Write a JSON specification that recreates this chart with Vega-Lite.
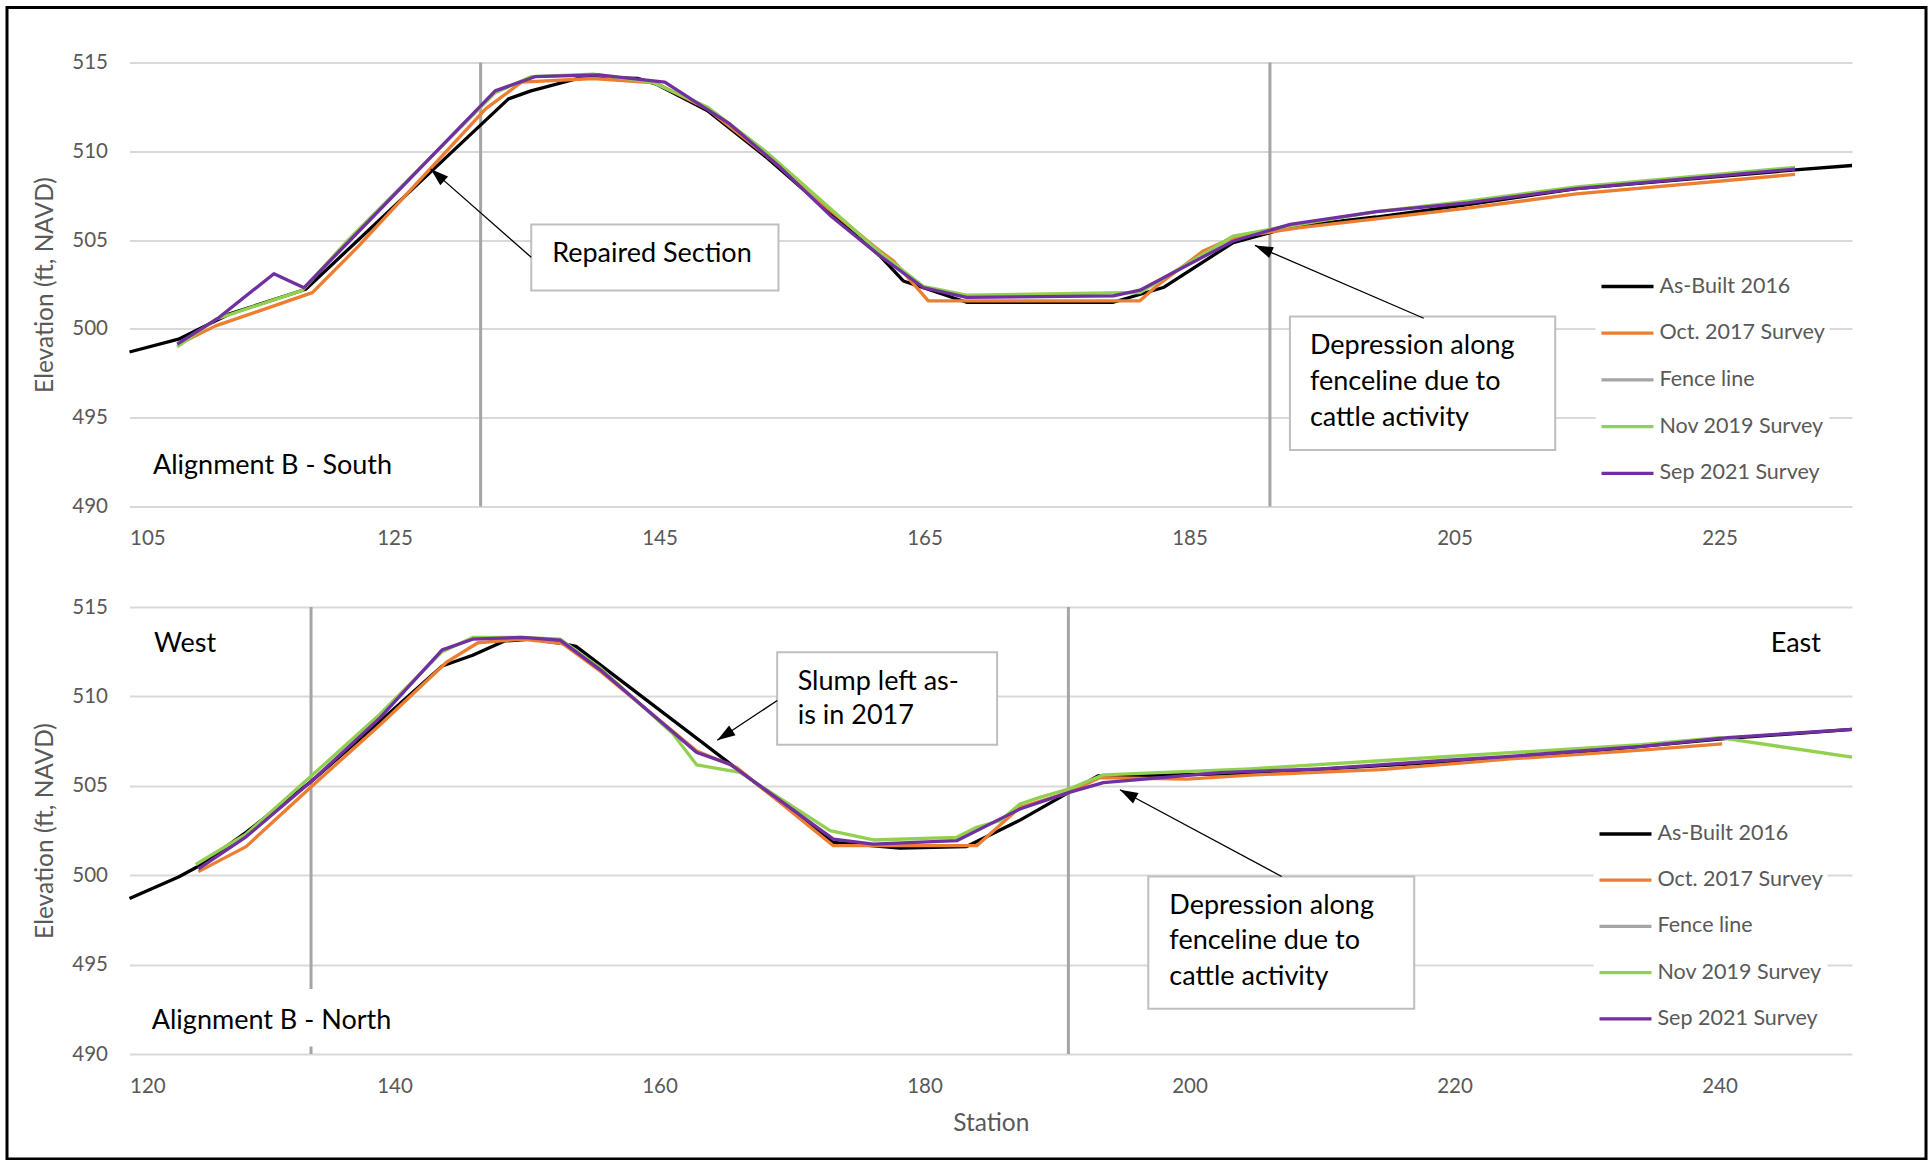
{
  "$schema": "https://vega.github.io/schema/vega-lite/v6.json",
  "background": "white",
  "padding": {"left": 5.5, "top": 5.5, "right": 0, "bottom": 0},
  "bounds": "flush",
  "spacing": 100.5,
  "config": {
    "font": "Lato",
    "view": {"stroke": null},
    "axis": {
      "gridColor": "#D9D9D9", "gridWidth": 2, "domain": false, "ticks": false,
      "labelColor": "#595959", "labelFontSize": 20.5, "labelFont": "Lato",
      "titleColor": "#595959", "titleFontSize": 24.5, "titleFontWeight": "normal", "titleFont": "Lato"
    },
    "legend": {
      "title": null, "symbolType": "stroke", "symbolStrokeWidth": 3.3, "symbolSize": 2704,
      "labelFontSize": 21.5, "labelColor": "#595959", "labelFont": "Lato", "labelOffset": 4,
      "padding": 4, "fillColor": "white", "labelLimit": 400
    }
  },
  "resolve": {"scale": {"color": "independent"}, "legend": {"color": "independent"}},
  "datasets": {
    "top": [
      {"station": 105.0, "elev": 498.7, "series": "As-Built 2016"},
      {"station": 108.7, "elev": 499.42, "series": "As-Built 2016"},
      {"station": 112.5, "elev": 500.83, "series": "As-Built 2016"},
      {"station": 118.3, "elev": 502.23, "series": "As-Built 2016"},
      {"station": 133.6, "elev": 512.95, "series": "As-Built 2016"},
      {"station": 135.3, "elev": 513.4, "series": "As-Built 2016"},
      {"station": 138.7, "elev": 514.07, "series": "As-Built 2016"},
      {"station": 140.0, "elev": 514.16, "series": "As-Built 2016"},
      {"station": 143.4, "elev": 514.1, "series": "As-Built 2016"},
      {"station": 144.7, "elev": 513.8, "series": "As-Built 2016"},
      {"station": 148.6, "elev": 512.3, "series": "As-Built 2016"},
      {"station": 153.0, "elev": 509.7, "series": "As-Built 2016"},
      {"station": 157.7, "elev": 506.65, "series": "As-Built 2016"},
      {"station": 161.64, "elev": 504.11, "series": "As-Built 2016"},
      {"station": 163.4, "elev": 502.7, "series": "As-Built 2016"},
      {"station": 168.18, "elev": 501.5, "series": "As-Built 2016"},
      {"station": 179.25, "elev": 501.5, "series": "As-Built 2016"},
      {"station": 183.02, "elev": 502.33, "series": "As-Built 2016"},
      {"station": 188.3, "elev": 504.86, "series": "As-Built 2016"},
      {"station": 191.07, "elev": 505.42, "series": "As-Built 2016"},
      {"station": 192.6, "elev": 505.75, "series": "As-Built 2016"},
      {"station": 199.1, "elev": 506.3, "series": "As-Built 2016"},
      {"station": 206.0, "elev": 507.0, "series": "As-Built 2016"},
      {"station": 214.2, "elev": 507.9, "series": "As-Built 2016"},
      {"station": 230.7, "elev": 508.95, "series": "As-Built 2016"},
      {"station": 235.0, "elev": 509.2, "series": "As-Built 2016"},

      {"station": 108.7, "elev": 499.14, "series": "Oct. 2017 Survey"},
      {"station": 111.5, "elev": 500.17, "series": "Oct. 2017 Survey"},
      {"station": 118.8, "elev": 502.04, "series": "Oct. 2017 Survey"},
      {"station": 122.3, "elev": 504.67, "series": "Oct. 2017 Survey"},
      {"station": 131.9, "elev": 512.4, "series": "Oct. 2017 Survey"},
      {"station": 134.6, "elev": 513.9, "series": "Oct. 2017 Survey"},
      {"station": 140.0, "elev": 514.1, "series": "Oct. 2017 Survey"},
      {"station": 144.7, "elev": 513.85, "series": "Oct. 2017 Survey"},
      {"station": 148.6, "elev": 512.4, "series": "Oct. 2017 Survey"},
      {"station": 153.0, "elev": 509.8, "series": "Oct. 2017 Survey"},
      {"station": 157.7, "elev": 506.8, "series": "Oct. 2017 Survey"},
      {"station": 161.64, "elev": 504.39, "series": "Oct. 2017 Survey"},
      {"station": 162.65, "elev": 503.83, "series": "Oct. 2017 Survey"},
      {"station": 165.29, "elev": 501.58, "series": "Oct. 2017 Survey"},
      {"station": 181.26, "elev": 501.58, "series": "Oct. 2017 Survey"},
      {"station": 182.5, "elev": 502.4, "series": "Oct. 2017 Survey"},
      {"station": 186.04, "elev": 504.39, "series": "Oct. 2017 Survey"},
      {"station": 188.3, "elev": 505.14, "series": "Oct. 2017 Survey"},
      {"station": 193.34, "elev": 505.7, "series": "Oct. 2017 Survey"},
      {"station": 199.1, "elev": 506.2, "series": "Oct. 2017 Survey"},
      {"station": 206.0, "elev": 506.8, "series": "Oct. 2017 Survey"},
      {"station": 214.2, "elev": 507.6, "series": "Oct. 2017 Survey"},
      {"station": 230.7, "elev": 508.7, "series": "Oct. 2017 Survey"},

      {"station": 108.6, "elev": 498.99, "series": "Nov 2019 Survey"},
      {"station": 111.5, "elev": 500.54, "series": "Nov 2019 Survey"},
      {"station": 118.04, "elev": 502.17, "series": "Nov 2019 Survey"},
      {"station": 121.3, "elev": 504.85, "series": "Nov 2019 Survey"},
      {"station": 132.6, "elev": 513.3, "series": "Nov 2019 Survey"},
      {"station": 135.3, "elev": 514.2, "series": "Nov 2019 Survey"},
      {"station": 140.0, "elev": 514.35, "series": "Nov 2019 Survey"},
      {"station": 144.4, "elev": 513.9, "series": "Nov 2019 Survey"},
      {"station": 148.6, "elev": 512.5, "series": "Nov 2019 Survey"},
      {"station": 153.0, "elev": 510.0, "series": "Nov 2019 Survey"},
      {"station": 157.7, "elev": 506.9, "series": "Nov 2019 Survey"},
      {"station": 161.64, "elev": 504.3, "series": "Nov 2019 Survey"},
      {"station": 164.9, "elev": 502.4, "series": "Nov 2019 Survey"},
      {"station": 168.18, "elev": 501.9, "series": "Nov 2019 Survey"},
      {"station": 181.26, "elev": 502.05, "series": "Nov 2019 Survey"},
      {"station": 188.3, "elev": 505.23, "series": "Nov 2019 Survey"},
      {"station": 191.07, "elev": 505.61, "series": "Nov 2019 Survey"},
      {"station": 199.1, "elev": 506.6, "series": "Nov 2019 Survey"},
      {"station": 206.0, "elev": 507.2, "series": "Nov 2019 Survey"},
      {"station": 214.2, "elev": 508.0, "series": "Nov 2019 Survey"},
      {"station": 230.7, "elev": 509.1, "series": "Nov 2019 Survey"},

      {"station": 108.6, "elev": 499.14, "series": "Sep 2021 Survey"},
      {"station": 111.75, "elev": 500.64, "series": "Sep 2021 Survey"},
      {"station": 115.9, "elev": 503.11, "series": "Sep 2021 Survey"},
      {"station": 118.17, "elev": 502.32, "series": "Sep 2021 Survey"},
      {"station": 121.6, "elev": 504.95, "series": "Sep 2021 Survey"},
      {"station": 132.6, "elev": 513.4, "series": "Sep 2021 Survey"},
      {"station": 135.6, "elev": 514.2, "series": "Sep 2021 Survey"},
      {"station": 140.4, "elev": 514.3, "series": "Sep 2021 Survey"},
      {"station": 145.4, "elev": 513.9, "series": "Sep 2021 Survey"},
      {"station": 150.3, "elev": 511.54, "series": "Sep 2021 Survey"},
      {"station": 154.0, "elev": 509.17, "series": "Sep 2021 Survey"},
      {"station": 158.0, "elev": 506.31, "series": "Sep 2021 Survey"},
      {"station": 161.64, "elev": 504.11, "series": "Sep 2021 Survey"},
      {"station": 164.9, "elev": 502.33, "series": "Sep 2021 Survey"},
      {"station": 168.18, "elev": 501.77, "series": "Sep 2021 Survey"},
      {"station": 179.25, "elev": 501.86, "series": "Sep 2021 Survey"},
      {"station": 181.26, "elev": 502.18, "series": "Sep 2021 Survey"},
      {"station": 188.3, "elev": 504.95, "series": "Sep 2021 Survey"},
      {"station": 192.6, "elev": 505.89, "series": "Sep 2021 Survey"},
      {"station": 199.1, "elev": 506.6, "series": "Sep 2021 Survey"},
      {"station": 206.0, "elev": 507.1, "series": "Sep 2021 Survey"},
      {"station": 214.2, "elev": 507.9, "series": "Sep 2021 Survey"},
      {"station": 230.7, "elev": 509.0, "series": "Sep 2021 Survey"}
    ],
    "bottom": [
      {"station": 120.0, "elev": 498.7, "series": "As-Built 2016"},
      {"station": 123.7, "elev": 499.9, "series": "As-Built 2016"},
      {"station": 125.2, "elev": 500.5, "series": "As-Built 2016"},
      {"station": 128.8, "elev": 502.4, "series": "As-Built 2016"},
      {"station": 133.8, "elev": 505.3, "series": "As-Built 2016"},
      {"station": 138.9, "elev": 508.6, "series": "As-Built 2016"},
      {"station": 143.6, "elev": 511.7, "series": "As-Built 2016"},
      {"station": 145.9, "elev": 512.3, "series": "As-Built 2016"},
      {"station": 148.3, "elev": 513.1, "series": "As-Built 2016"},
      {"station": 150.3, "elev": 513.2, "series": "As-Built 2016"},
      {"station": 152.7, "elev": 512.95, "series": "As-Built 2016"},
      {"station": 153.7, "elev": 512.8, "series": "As-Built 2016"},
      {"station": 173.12, "elev": 501.84, "series": "As-Built 2016"},
      {"station": 178.15, "elev": 501.52, "series": "As-Built 2016"},
      {"station": 183.18, "elev": 501.6, "series": "As-Built 2016"},
      {"station": 187.21, "elev": 503.08, "series": "As-Built 2016"},
      {"station": 190.86, "elev": 504.62, "series": "As-Built 2016"},
      {"station": 193.12, "elev": 505.56, "series": "As-Built 2016"},
      {"station": 194.76, "elev": 505.56, "series": "As-Built 2016"},
      {"station": 204.6, "elev": 505.7, "series": "As-Built 2016"},
      {"station": 224.2, "elev": 506.55, "series": "As-Built 2016"},
      {"station": 234.1, "elev": 507.2, "series": "As-Built 2016"},
      {"station": 240.6, "elev": 507.65, "series": "As-Built 2016"},
      {"station": 250.0, "elev": 508.15, "series": "As-Built 2016"},

      {"station": 125.2, "elev": 500.2, "series": "Oct. 2017 Survey"},
      {"station": 128.8, "elev": 501.6, "series": "Oct. 2017 Survey"},
      {"station": 133.8, "elev": 505.0, "series": "Oct. 2017 Survey"},
      {"station": 138.9, "elev": 508.4, "series": "Oct. 2017 Survey"},
      {"station": 143.9, "elev": 511.9, "series": "Oct. 2017 Survey"},
      {"station": 146.3, "elev": 513.0, "series": "Oct. 2017 Survey"},
      {"station": 149.6, "elev": 513.2, "series": "Oct. 2017 Survey"},
      {"station": 152.7, "elev": 512.95, "series": "Oct. 2017 Survey"},
      {"station": 155.51, "elev": 511.42, "series": "Oct. 2017 Survey"},
      {"station": 162.81, "elev": 506.95, "series": "Oct. 2017 Survey"},
      {"station": 165.83, "elev": 506.02, "series": "Oct. 2017 Survey"},
      {"station": 173.12, "elev": 501.65, "series": "Oct. 2017 Survey"},
      {"station": 183.94, "elev": 501.65, "series": "Oct. 2017 Survey"},
      {"station": 187.2, "elev": 503.79, "series": "Oct. 2017 Survey"},
      {"station": 190.86, "elev": 504.62, "series": "Oct. 2017 Survey"},
      {"station": 193.25, "elev": 505.46, "series": "Oct. 2017 Survey"},
      {"station": 199.8, "elev": 505.37, "series": "Oct. 2017 Survey"},
      {"station": 204.6, "elev": 505.6, "series": "Oct. 2017 Survey"},
      {"station": 214.4, "elev": 505.9, "series": "Oct. 2017 Survey"},
      {"station": 224.2, "elev": 506.5, "series": "Oct. 2017 Survey"},
      {"station": 234.1, "elev": 507.0, "series": "Oct. 2017 Survey"},
      {"station": 240.2, "elev": 507.35, "series": "Oct. 2017 Survey"},

      {"station": 125.0, "elev": 500.6, "series": "Nov 2019 Survey"},
      {"station": 128.8, "elev": 502.3, "series": "Nov 2019 Survey"},
      {"station": 133.8, "elev": 505.6, "series": "Nov 2019 Survey"},
      {"station": 138.9, "elev": 509.0, "series": "Nov 2019 Survey"},
      {"station": 143.6, "elev": 512.5, "series": "Nov 2019 Survey"},
      {"station": 145.9, "elev": 513.3, "series": "Nov 2019 Survey"},
      {"station": 149.6, "elev": 513.3, "series": "Nov 2019 Survey"},
      {"station": 152.5, "elev": 513.2, "series": "Nov 2019 Survey"},
      {"station": 155.5, "elev": 511.6, "series": "Nov 2019 Survey"},
      {"station": 161.04, "elev": 507.89, "series": "Nov 2019 Survey"},
      {"station": 162.81, "elev": 506.17, "series": "Nov 2019 Survey"},
      {"station": 166.08, "elev": 505.75, "series": "Nov 2019 Survey"},
      {"station": 172.87, "elev": 502.49, "series": "Nov 2019 Survey"},
      {"station": 176.14, "elev": 501.97, "series": "Nov 2019 Survey"},
      {"station": 182.43, "elev": 502.12, "series": "Nov 2019 Survey"},
      {"station": 183.94, "elev": 502.68, "series": "Nov 2019 Survey"},
      {"station": 185.7, "elev": 503.05, "series": "Nov 2019 Survey"},
      {"station": 187.2, "elev": 503.98, "series": "Nov 2019 Survey"},
      {"station": 188.7, "elev": 504.35, "series": "Nov 2019 Survey"},
      {"station": 190.86, "elev": 504.81, "series": "Nov 2019 Survey"},
      {"station": 193.5, "elev": 505.61, "series": "Nov 2019 Survey"},
      {"station": 204.6, "elev": 505.95, "series": "Nov 2019 Survey"},
      {"station": 214.4, "elev": 506.4, "series": "Nov 2019 Survey"},
      {"station": 224.2, "elev": 506.85, "series": "Nov 2019 Survey"},
      {"station": 234.1, "elev": 507.3, "series": "Nov 2019 Survey"},
      {"station": 240.0, "elev": 507.7, "series": "Nov 2019 Survey"},
      {"station": 250.0, "elev": 506.6, "series": "Nov 2019 Survey"},

      {"station": 125.2, "elev": 500.35, "series": "Sep 2021 Survey"},
      {"station": 128.8, "elev": 502.15, "series": "Sep 2021 Survey"},
      {"station": 133.8, "elev": 505.3, "series": "Sep 2021 Survey"},
      {"station": 138.9, "elev": 508.8, "series": "Sep 2021 Survey"},
      {"station": 143.6, "elev": 512.6, "series": "Sep 2021 Survey"},
      {"station": 145.9, "elev": 513.2, "series": "Sep 2021 Survey"},
      {"station": 149.6, "elev": 513.3, "series": "Sep 2021 Survey"},
      {"station": 152.5, "elev": 513.15, "series": "Sep 2021 Survey"},
      {"station": 155.51, "elev": 511.5, "series": "Sep 2021 Survey"},
      {"station": 162.81, "elev": 506.86, "series": "Sep 2021 Survey"},
      {"station": 165.32, "elev": 506.21, "series": "Sep 2021 Survey"},
      {"station": 173.12, "elev": 502.02, "series": "Sep 2021 Survey"},
      {"station": 176.14, "elev": 501.74, "series": "Sep 2021 Survey"},
      {"station": 182.43, "elev": 501.93, "series": "Sep 2021 Survey"},
      {"station": 187.2, "elev": 503.7, "series": "Sep 2021 Survey"},
      {"station": 190.86, "elev": 504.62, "series": "Sep 2021 Survey"},
      {"station": 193.5, "elev": 505.18, "series": "Sep 2021 Survey"},
      {"station": 202.3, "elev": 505.74, "series": "Sep 2021 Survey"},
      {"station": 210.0, "elev": 505.95, "series": "Sep 2021 Survey"},
      {"station": 218.9, "elev": 506.4, "series": "Sep 2021 Survey"},
      {"station": 224.2, "elev": 506.65, "series": "Sep 2021 Survey"},
      {"station": 234.1, "elev": 507.2, "series": "Sep 2021 Survey"},
      {"station": 240.6, "elev": 507.7, "series": "Sep 2021 Survey"},
      {"station": 250.0, "elev": 508.15, "series": "Sep 2021 Survey"}
    ],
    "fenceTop": [
      {"station": 131.5, "elev": 490, "elev2": 515, "series": "Fence line"},
      {"station": 191.07, "elev": 490, "elev2": 515, "series": "Fence line"}
    ],
    "fenceBottom": [
      {"station": 133.7, "elev": 490, "elev2": 515, "series": "Fence line"},
      {"station": 190.86, "elev": 490, "elev2": 515, "series": "Fence line"}
    ],
    "frame": [
      {"station": 95.755, "station2": 240.585, "elev": 518.097, "elev2": 453.26}
    ],
    "boxesTop": [
      {"station": 135.32, "station2": 153.98, "elev": 505.88, "elev2": 502.16},
      {"station": 192.58, "station2": 212.6, "elev": 500.7, "elev2": 493.18}
    ],
    "boxesBottom": [
      {"station": 168.88, "station2": 185.48, "elev": 512.47, "elev2": 507.29},
      {"station": 196.89, "station2": 216.96, "elev": 499.93, "elev2": 492.53}
    ],
    "coverBottom": [
      {"station": 121.0, "station2": 140.5, "elev": 493.63, "elev2": 490.42}
    ],
    "arrowsTop": [
      {"id": "repaired", "station": 135.32, "elev": 504.03, "station2": 127.73, "elev2": 509.01},
      {"id": "depression", "station": 202.68, "elev": 500.6, "station2": 189.94, "elev2": 504.7}
    ],
    "arrowsBottom": [
      {"id": "slump", "station": 168.89, "elev": 509.77, "station2": 164.36, "elev2": 507.55},
      {"id": "depression", "station": 206.96, "elev": 499.93, "station2": 194.75, "elev2": 504.78}
    ],
    "textTop": [
      {"label": "Alignment B - South", "station": 106.77, "elev": 491.84},
      {"label": "Depression along", "station": 194.09, "elev": 498.56},
      {"label": "fenceline due to", "station": 194.09, "elev": 496.56},
      {"label": "cattle activity", "station": 194.09, "elev": 494.56}
    ],
    "textTopCenter": [
      {"label": "Repaired Section", "station": 144.43, "elev": 503.74}
    ],
    "textBottom": [
      {"label": "West", "station": 121.85, "elev": 512.51},
      {"label": "Alignment B - North", "station": 121.68, "elev": 491.38},
      {"label": "Slump left as-", "station": 170.43, "elev": 510.37},
      {"label": "is in 2017", "station": 170.43, "elev": 508.43},
      {"label": "Depression along", "station": 198.48, "elev": 497.84},
      {"label": "fenceline due to", "station": 198.48, "elev": 495.85},
      {"label": "cattle activity", "station": 198.48, "elev": 493.87}
    ],
    "textBottomRight": [
      {"label": "East", "station": 247.66, "elev": 512.51}
    ]
  },
  "vconcat": [
    {
      "width": 1722.5,
      "height": 444,
      "encoding": {
        "x": {"field": "station", "type": "quantitative", "scale": {"domain": [105, 235], "nice": false, "zero": false},
              "axis": {"values": [105, 125, 145, 165, 185, 205, 225], "grid": false, "labelPadding": 22, "title": null}},
        "y": {"field": "elev", "type": "quantitative", "scale": {"domain": [490, 515], "nice": false, "zero": false},
              "axis": {"values": [490, 495, 500, 505, 510, 515], "labelPadding": 22, "titlePadding": 14, "title": "Elevation (ft, NAVD)"}}
      },
      "layer": [
        {
          "data": {"name": "frame"},
          "mark": {"type": "rect", "fill": "white", "fillOpacity": 0, "stroke": "#000000", "strokeWidth": 3},
          "encoding": {"x2": {"field": "station2"}, "y2": {"field": "elev2"}}
        },
        {
          "data": {"name": "boxesTop"},
          "mark": {"type": "rect", "fill": "white", "stroke": "#BFBFBF", "strokeWidth": 2},
          "encoding": {"x2": {"field": "station2"}, "y2": {"field": "elev2"}}
        },
        {
          "data": {"name": "fenceTop"},
          "mark": {"type": "rule", "strokeWidth": 3},
          "encoding": {
            "y2": {"field": "elev2"},
            "color": {"field": "series", "type": "nominal",
              "scale": {"domain": ["As-Built 2016", "Oct. 2017 Survey", "Fence line", "Nov 2019 Survey", "Sep 2021 Survey"],
                        "range": ["#000000", "#ED7D31", "#A5A5A5", "#92D050", "#7030A0"]},
              "legend": {"orient": "none", "legendX": 1466, "legendY": 192, "rowPadding": 7.7}}
          }
        },
        {
          "data": {"name": "top"},
          "mark": {"type": "line", "strokeWidth": 3.3, "strokeJoin": "round"},
          "encoding": {
            "color": {"field": "series", "type": "nominal",
              "scale": {"domain": ["As-Built 2016", "Oct. 2017 Survey", "Fence line", "Nov 2019 Survey", "Sep 2021 Survey"],
                        "range": ["#000000", "#ED7D31", "#A5A5A5", "#92D050", "#7030A0"]},
              "legend": {"orient": "none", "legendX": 1466, "legendY": 192, "rowPadding": 7.7}}
          }
        },
        {
          "data": {"name": "arrowsTop"},
          "mark": {"type": "rule", "color": "#000000", "strokeWidth": 1.3},
          "encoding": {"x2": {"field": "station2"}, "y2": {"field": "elev2"}}
        },
        {
          "data": {"name": "arrowsTop"},
          "transform": [{"filter": "datum.id == 'repaired'"}],
          "mark": {"type": "point", "shape": "M0,0L0.65,2L-0.65,2Z", "size": 324, "filled": true, "color": "#000000", "opacity": 1, "angle": 311.4},
          "encoding": {"x": {"field": "station2", "type": "quantitative"}, "y": {"field": "elev2", "type": "quantitative"}}
        },
        {
          "data": {"name": "arrowsTop"},
          "transform": [{"filter": "datum.id == 'depression'"}],
          "mark": {"type": "point", "shape": "M0,0L0.65,2L-0.65,2Z", "size": 324, "filled": true, "color": "#000000", "opacity": 1, "angle": 293.3},
          "encoding": {"x": {"field": "station2", "type": "quantitative"}, "y": {"field": "elev2", "type": "quantitative"}}
        },
        {
          "data": {"name": "textTop"},
          "mark": {"type": "text", "align": "left", "baseline": "alphabetic", "fontSize": 27, "color": "#000000", "font": "Lato"},
          "encoding": {"text": {"field": "label"}}
        },
        {
          "data": {"name": "textTopCenter"},
          "mark": {"type": "text", "align": "center", "baseline": "alphabetic", "fontSize": 27, "color": "#000000", "font": "Lato"},
          "encoding": {"text": {"field": "label"}}
        }
      ]
    },
    {
      "width": 1722.5,
      "height": 447,
      "encoding": {
        "x": {"field": "station", "type": "quantitative", "scale": {"domain": [120, 250], "nice": false, "zero": false},
              "axis": {"values": [120, 140, 160, 180, 200, 220, 240], "grid": false, "labelPadding": 22, "titlePadding": 15, "title": "Station"}},
        "y": {"field": "elev", "type": "quantitative", "scale": {"domain": [490, 515], "nice": false, "zero": false},
              "axis": {"values": [490, 495, 500, 505, 510, 515], "labelPadding": 22, "titlePadding": 14, "title": "Elevation (ft, NAVD)"}}
      },
      "layer": [
        {
          "data": {"name": "boxesBottom"},
          "mark": {"type": "rect", "fill": "white", "stroke": "#BFBFBF", "strokeWidth": 2},
          "encoding": {"x2": {"field": "station2"}, "y2": {"field": "elev2"}}
        },
        {
          "data": {"name": "fenceBottom"},
          "mark": {"type": "rule", "strokeWidth": 3},
          "encoding": {
            "y2": {"field": "elev2"},
            "color": {"field": "series", "type": "nominal",
              "scale": {"domain": ["As-Built 2016", "Oct. 2017 Survey", "Fence line", "Nov 2019 Survey", "Sep 2021 Survey"],
                        "range": ["#000000", "#ED7D31", "#A5A5A5", "#92D050", "#7030A0"]},
              "legend": {"orient": "none", "legendX": 1464, "legendY": 195, "rowPadding": 7.2}}
          }
        },
        {
          "data": {"name": "coverBottom"},
          "mark": {"type": "rect", "fill": "white", "strokeWidth": 0},
          "encoding": {"x2": {"field": "station2"}, "y2": {"field": "elev2"}}
        },
        {
          "data": {"name": "bottom"},
          "mark": {"type": "line", "strokeWidth": 3.3, "strokeJoin": "round"},
          "encoding": {
            "color": {"field": "series", "type": "nominal",
              "scale": {"domain": ["As-Built 2016", "Oct. 2017 Survey", "Fence line", "Nov 2019 Survey", "Sep 2021 Survey"],
                        "range": ["#000000", "#ED7D31", "#A5A5A5", "#92D050", "#7030A0"]},
              "legend": {"orient": "none", "legendX": 1464, "legendY": 195, "rowPadding": 7.2}}
          }
        },
        {
          "data": {"name": "arrowsBottom"},
          "mark": {"type": "rule", "color": "#000000", "strokeWidth": 1.3},
          "encoding": {"x2": {"field": "station2"}, "y2": {"field": "elev2"}}
        },
        {
          "data": {"name": "arrowsBottom"},
          "transform": [{"filter": "datum.id == 'slump'"}],
          "mark": {"type": "point", "shape": "M0,0L0.65,2L-0.65,2Z", "size": 324, "filled": true, "color": "#000000", "opacity": 1, "angle": 236.8},
          "encoding": {"x": {"field": "station2", "type": "quantitative"}, "y": {"field": "elev2", "type": "quantitative"}}
        },
        {
          "data": {"name": "arrowsBottom"},
          "transform": [{"filter": "datum.id == 'depression'"}],
          "mark": {"type": "point", "shape": "M0,0L0.65,2L-0.65,2Z", "size": 324, "filled": true, "color": "#000000", "opacity": 1, "angle": 298.2},
          "encoding": {"x": {"field": "station2", "type": "quantitative"}, "y": {"field": "elev2", "type": "quantitative"}}
        },
        {
          "data": {"name": "textBottom"},
          "mark": {"type": "text", "align": "left", "baseline": "alphabetic", "fontSize": 27, "color": "#000000", "font": "Lato"},
          "encoding": {"text": {"field": "label"}}
        },
        {
          "data": {"name": "textBottomRight"},
          "mark": {"type": "text", "align": "right", "baseline": "alphabetic", "fontSize": 27, "color": "#000000", "font": "Lato"},
          "encoding": {"text": {"field": "label"}}
        }
      ]
    }
  ]
}
